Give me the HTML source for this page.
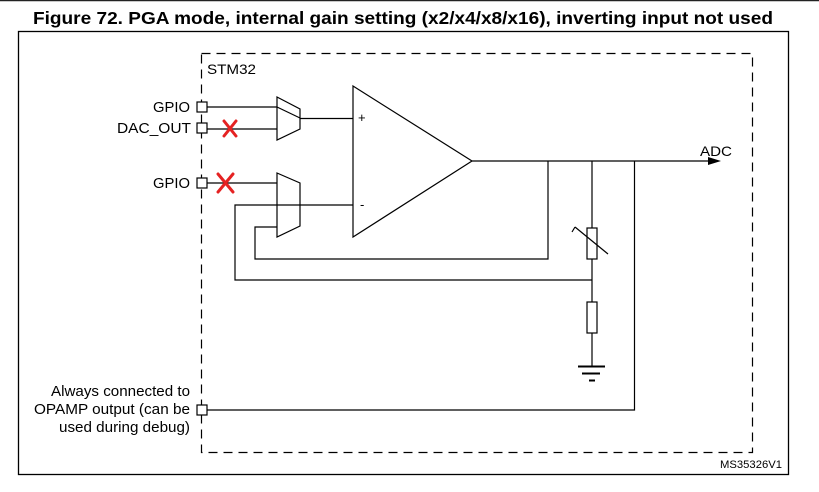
<!DOCTYPE html>
<html><head><meta charset="utf-8"><style>
html,body{margin:0;padding:0;background:#fff;}
svg{display:block;}
text{font-family:"Liberation Sans",Arial,sans-serif;fill:#000;}
</style></head><body>
<svg width="819" height="492" viewBox="0 0 819 492" xmlns="http://www.w3.org/2000/svg">
<line x1="0" y1="0.5" x2="819" y2="0.5" stroke="#222" stroke-width="1.5"/>
<text x="403" y="24" font-size="17.5" font-weight="bold" text-anchor="middle" textLength="740" lengthAdjust="spacingAndGlyphs">Figure 72. PGA mode, internal gain setting (x2/x4/x8/x16), inverting input not used</text>
<rect x="18.5" y="31.5" width="770" height="443" fill="none" stroke="#000" stroke-width="1.3"/>
<rect x="201.5" y="53.5" width="551" height="399" fill="none" stroke="#000" stroke-width="1.2" stroke-dasharray="9,6"/>
<text x="207" y="74" font-size="14" textLength="49" lengthAdjust="spacingAndGlyphs">STM32</text>
<g stroke="#000" stroke-width="1.2" fill="none">
<rect x="197" y="102" width="10" height="10" fill="#fff"/>
<rect x="197" y="123" width="10" height="10" fill="#fff"/>
<rect x="197" y="178" width="10" height="10" fill="#fff"/>
<rect x="197" y="405" width="10" height="10" fill="#fff"/>
<polygon points="277,97 300,109 300,129 277,140"/>
<line x1="207" y1="107" x2="277" y2="107"/>
<line x1="277" y1="107" x2="300" y2="118"/>
<line x1="207" y1="129" x2="277" y2="129"/>
<line x1="300" y1="118.5" x2="353" y2="118.5"/>
<polygon points="277,173 300,183 300,226 277,237"/>
<line x1="207" y1="183" x2="277" y2="183"/>
<polyline points="353,205 235,205 235,280 592,280"/>
<polyline points="277,227 255,227 255,259 548,259 548,161"/>
<polygon points="353,86 472,161 353,237"/>
<line x1="472" y1="161" x2="712" y2="161"/>
<line x1="592" y1="161" x2="592" y2="366"/>
<rect x="587" y="228" width="10" height="31" fill="#fff"/>
<line x1="575" y1="227" x2="608" y2="254"/>
<line x1="575" y1="227" x2="572" y2="232"/>
<rect x="587" y="302" width="10" height="31" fill="#fff"/>
<line x1="578" y1="366.5" x2="605" y2="366.5" stroke-width="2"/>
<line x1="582" y1="373.5" x2="600" y2="373.5" stroke-width="2"/>
<line x1="589" y1="380.5" x2="595" y2="380.5" stroke-width="2"/>
<polyline points="634.5,161 634.5,410 207,410"/>
</g>
<polygon points="708,157 721,161 708,165" fill="#000"/>
<text x="700" y="156" font-size="14" textLength="32" lengthAdjust="spacingAndGlyphs">ADC</text>
<text x="358" y="122" font-size="13">+</text>
<text x="360" y="209" font-size="13">-</text>
<g font-size="14.5">
<text x="153" y="112" textLength="37" lengthAdjust="spacingAndGlyphs">GPIO</text>
<text x="117" y="133" textLength="74" lengthAdjust="spacingAndGlyphs">DAC_OUT</text>
<text x="153" y="188" textLength="37" lengthAdjust="spacingAndGlyphs">GPIO</text>
<text x="51" y="396" textLength="139" lengthAdjust="spacingAndGlyphs">Always connected to</text>
<text x="34" y="414" textLength="156" lengthAdjust="spacingAndGlyphs">OPAMP output (can be</text>
<text x="59" y="432" textLength="131" lengthAdjust="spacingAndGlyphs">used during debug)</text>
</g>
<g stroke="#e52222" stroke-width="3" stroke-linecap="round">
<line x1="224" y1="121" x2="236" y2="136"/><line x1="236" y1="121" x2="224" y2="136"/>
<line x1="218" y1="174" x2="233" y2="192"/><line x1="233" y1="174" x2="218" y2="192"/>
</g>
<text x="720" y="468" font-size="11" textLength="62" lengthAdjust="spacingAndGlyphs">MS35326V1</text>
</svg>
</body></html>
